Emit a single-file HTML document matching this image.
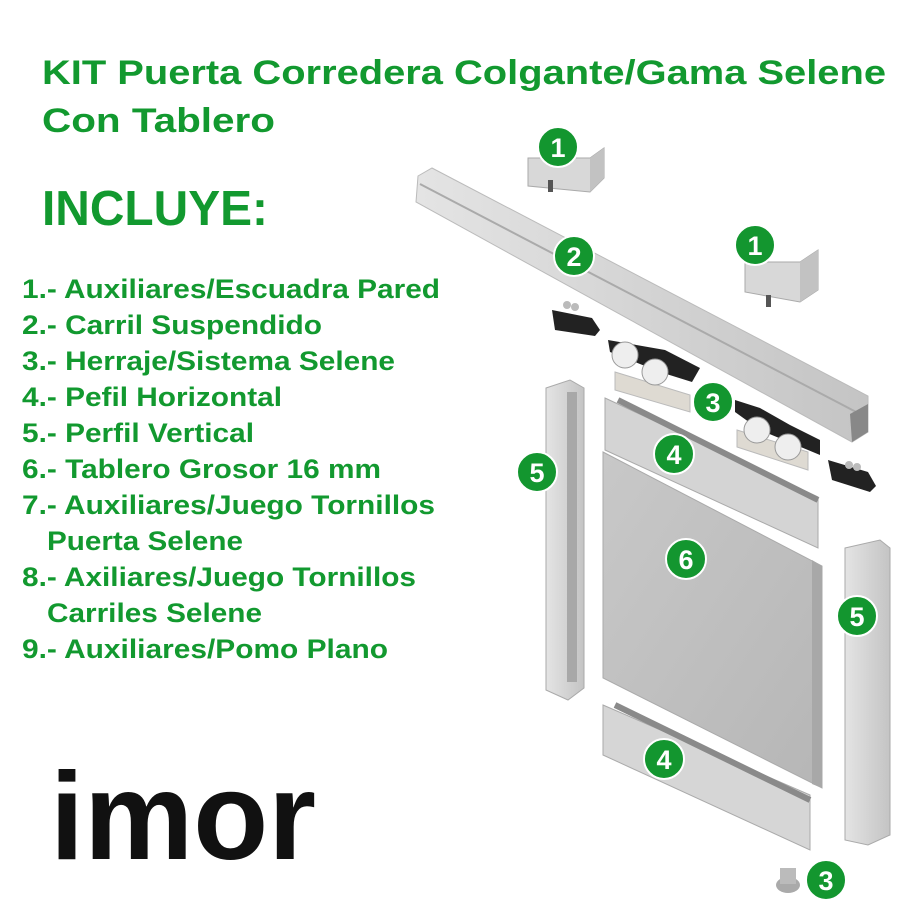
<!DOCTYPE html>
<html><head><meta charset="utf-8"><style>
html,body{margin:0;padding:0;background:#fff;}
svg{display:block;}
text{font-family:"Liberation Sans",Arial,sans-serif;font-weight:bold;}
.g{fill:#12992f;}
.b circle{fill:#13962f;stroke:#fff;stroke-width:2;}
.b text{fill:#fff;font-size:27px;text-anchor:middle;}
</style></head><body>
<svg width="916" height="916" viewBox="0 0 916 916" xmlns="http://www.w3.org/2000/svg">
<defs>
<linearGradient id="al" x1="0" y1="0" x2="1" y2="0"><stop offset="0" stop-color="#e4e4e4"/><stop offset="1" stop-color="#c4c4c4"/></linearGradient>
<linearGradient id="pn" x1="0" y1="0" x2="1" y2="1"><stop offset="0" stop-color="#c8c8c8"/><stop offset="1" stop-color="#b6b6b6"/></linearGradient>
</defs>
<rect width="916" height="916" fill="#fff"/>
<text class="g" x="42" y="84" font-size="34" textLength="844" lengthAdjust="spacingAndGlyphs">KIT Puerta Corredera Colgante/Gama Selene</text>
<text class="g" x="42" y="132" font-size="34" textLength="233" lengthAdjust="spacingAndGlyphs">Con Tablero</text>
<text class="g" x="42" y="225" font-size="49" textLength="226" lengthAdjust="spacingAndGlyphs">INCLUYE:</text>
<g class="g" font-size="27">
<text x="22" y="298" textLength="418" lengthAdjust="spacingAndGlyphs">1.- Auxiliares/Escuadra Pared</text>
<text x="22" y="334" textLength="300" lengthAdjust="spacingAndGlyphs">2.- Carril Suspendido</text>
<text x="22" y="370" textLength="373" lengthAdjust="spacingAndGlyphs">3.- Herraje/Sistema Selene</text>
<text x="22" y="406" textLength="260" lengthAdjust="spacingAndGlyphs">4.- Pefil Horizontal</text>
<text x="22" y="442" textLength="232" lengthAdjust="spacingAndGlyphs">5.- Perfil Vertical</text>
<text x="22" y="478" textLength="359" lengthAdjust="spacingAndGlyphs">6.- Tablero Grosor 16 mm</text>
<text x="22" y="514" textLength="413" lengthAdjust="spacingAndGlyphs">7.- Auxiliares/Juego Tornillos</text>
<text x="47" y="550" textLength="196" lengthAdjust="spacingAndGlyphs">Puerta Selene</text>
<text x="22" y="586" textLength="394" lengthAdjust="spacingAndGlyphs">8.- Axiliares/Juego Tornillos</text>
<text x="47" y="622" textLength="215" lengthAdjust="spacingAndGlyphs">Carriles Selene</text>
<text x="22" y="658" textLength="366" lengthAdjust="spacingAndGlyphs">9.- Auxiliares/Pomo Plano</text>
</g>
<text x="50" y="859" font-size="124" fill="#111" textLength="266" lengthAdjust="spacingAndGlyphs">imor</text>

<path d="M528,158 L590,158 L604,148 L604,178 L590,192 L528,186 Z" fill="#d8d8d8" stroke="#aaa"/>
<path d="M590,158 L604,148 L604,178 L590,192 Z" fill="#c2c2c2"/>
<rect x="548" y="180" width="5" height="12" fill="#555"/>
<path d="M745,262 L800,262 L818,250 L818,290 L800,302 L745,292 Z" fill="#d8d8d8" stroke="#aaa"/>
<path d="M800,262 L818,250 L818,290 L800,302 Z" fill="#c2c2c2"/>
<rect x="766" y="295" width="5" height="12" fill="#555"/>

<polygon points="418,176 432,168 868,396 868,432 852,442 416,202" fill="url(#al)" stroke="#bbb"/>
<polyline points="420,184 860,414" stroke="#aaa" stroke-width="2" fill="none"/>
<polygon points="850,414 868,404 868,432 852,442" fill="#888"/>

<path d="M552,310 L592,318 L600,330 L595,336 L555,330 Z" fill="#222"/>
<circle cx="567" cy="305" r="4" fill="#bbb"/><circle cx="575" cy="307" r="4" fill="#bbb"/>
<path d="M615,372 L690,395 L690,412 L615,390 Z" fill="#dedad2" stroke="#bbb"/>
<path d="M608,340 L665,350 L700,368 L692,382 L660,372 L610,352 Z" fill="#222"/>
<circle cx="625" cy="355" r="13" fill="#eee" stroke="#999"/>
<circle cx="655" cy="372" r="13" fill="#eee" stroke="#999"/>
<path d="M737,430 L808,452 L808,470 L737,447 Z" fill="#dedad2" stroke="#bbb"/>
<path d="M735,400 L760,408 L790,425 L820,440 L820,455 L760,430 L735,412 Z" fill="#222"/>
<circle cx="757" cy="430" r="13" fill="#eee" stroke="#999"/>
<circle cx="788" cy="447" r="13" fill="#eee" stroke="#999"/>
<path d="M828,460 L868,472 L876,486 L870,492 L832,480 Z" fill="#222"/>
<circle cx="849" cy="465" r="4" fill="#bbb"/><circle cx="857" cy="467" r="4" fill="#bbb"/>

<polygon points="546,388 570,380 584,388 584,688 568,700 546,690" fill="url(#al)" stroke="#aaa"/>
<rect x="567" y="392" width="10" height="290" fill="#a8a8a8"/>
<polygon points="605,398 818,497 818,548 605,450" fill="#d4d4d4" stroke="#aaa"/>
<polyline points="618,400 818,500" stroke="#8a8a8a" stroke-width="6" fill="none"/>
<polygon points="603,452 822,566 822,788 603,678" fill="url(#pn)" stroke="#aaa"/>
<polygon points="812,560 822,566 822,788 812,784" fill="#a8a8a8"/>
<polygon points="603,705 810,795 810,850 603,755" fill="#d6d6d6" stroke="#aaa"/>
<polyline points="615,705 810,800" stroke="#8a8a8a" stroke-width="6" fill="none"/>
<polygon points="845,548 880,540 890,548 890,835 868,845 845,840" fill="url(#al)" stroke="#aaa"/>
<ellipse cx="788" cy="885" rx="12" ry="8" fill="#aaa"/>
<rect x="780" y="868" width="16" height="16" fill="#bbb"/>

<g class="b">
<circle cx="558" cy="147" r="20"/><text x="558" y="157">1</text>
<circle cx="755" cy="245" r="20"/><text x="755" y="255">1</text>
<circle cx="574" cy="256" r="20"/><text x="574" y="266">2</text>
<circle cx="713" cy="402" r="20"/><text x="713" y="412">3</text>
<circle cx="674" cy="454" r="20"/><text x="674" y="464">4</text>
<circle cx="537" cy="472" r="20"/><text x="537" y="482">5</text>
<circle cx="686" cy="559" r="20"/><text x="686" y="569">6</text>
<circle cx="857" cy="616" r="20"/><text x="857" y="626">5</text>
<circle cx="664" cy="759" r="20"/><text x="664" y="769">4</text>
<circle cx="826" cy="880" r="20"/><text x="826" y="890">3</text>
</g>
</svg>
</body></html>
